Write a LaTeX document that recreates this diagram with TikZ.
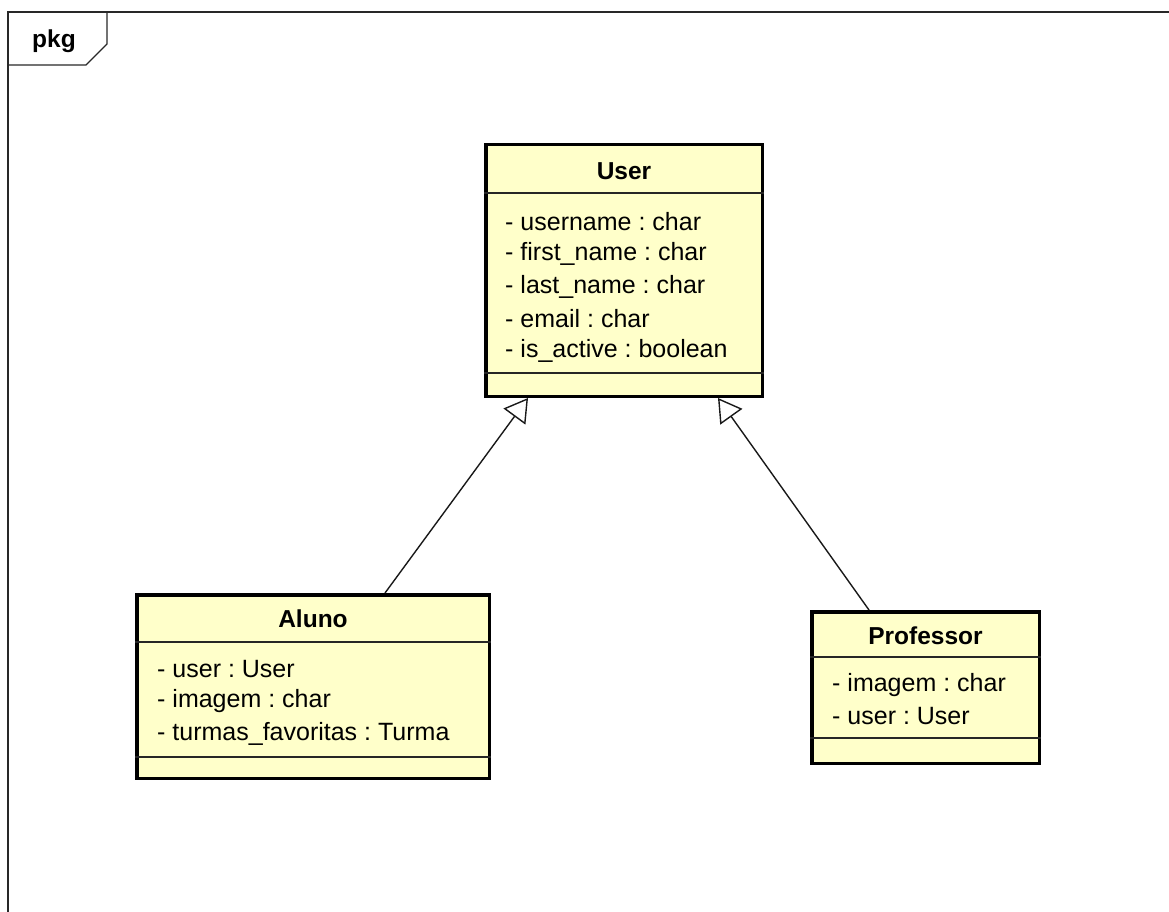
\documentclass[tikz,border=0pt]{standalone}
\usepackage{fontspec}
\setmainfont{Liberation Sans}
\usetikzlibrary{arrows.meta}
\frenchspacing
\definecolor{umlfill}{RGB}{255,255,202}
\definecolor{framegray}{RGB}{40,40,40}
\tikzset{
  classbox/.style={draw=black, line width=3.5pt, fill=umlfill, inner sep=0pt},
  sepline/.style={draw=black!85, line width=1.3pt},
  classname/.style={font=\fontsize{24.5}{28}\selectfont\bfseries, inner sep=0pt},
  attr/.style={font=\fontsize{25}{29}\selectfont, inner sep=0pt, anchor=west},
  frameline/.style={draw=framegray, line width=1.3pt},
  generalization/.style={draw=black!90, line width=1.4pt,
    -{Triangle[open, length=23pt, width=27pt, fill=white]}},
}
\begin{document}
\begin{tikzpicture}[x=1pt, y=-1pt]
\useasboundingbox (0,0) rectangle (1169,912);

% package frame with its name tab
\draw[frameline] (8,912) -- (8,12) -- (1169,12);
\draw[frameline] (107,12) -- (107,44) -- (86,65) -- (8,65);
\node[font=\fontsize{24.5}{28}\selectfont\bfseries, inner sep=0pt] (pkg) at (54,41) {pkg};

% class User
\node[classbox, minimum width=276.5pt, minimum height=251.5pt] (user) at (624,270.5) {};
\draw[sepline] (user.west |- 0,193) -- (user.east |- 0,193);
\draw[sepline] (user.west |- 0,373) -- (user.east |- 0,373);
\node[classname] (userT) at (624,171) {User};
\node[attr] (u1) at (505,222) {- username : char};
\node[attr] (u2) at (505,254) {- first\_name : char};
\node[attr] (u3) at (505,287) {- last\_name : char};
\node[attr] (u4) at (505,319) {- email : char};
\node[attr] (u5) at (505,351) {- is\_active : boolean};

% class Aluno
\node[classbox, minimum width=352.5pt, minimum height=183.5pt] (aluno) at (313,686.5) {};
\draw[sepline] (aluno.west |- 0,642) -- (aluno.east |- 0,642);
\draw[sepline] (aluno.west |- 0,757) -- (aluno.east |- 0,757);
\node[classname] (alunoT) at (313,619) {Aluno};
\node[attr] (a1) at (157,669) {- user : User};
\node[attr] (a2) at (157,701) {- imagem : char};
\node[attr] (a3) at (157,734) {- turmas\_favoritas : Turma};

% class Professor
\node[classbox, minimum width=227.5pt, minimum height=151.5pt] (prof) at (925.5,687.5) {};
\draw[sepline] (prof.west |- 0,657) -- (prof.east |- 0,657);
\draw[sepline] (prof.west |- 0,738) -- (prof.east |- 0,738);
\node[classname] (profT) at (925.5,636) {Professor};
\node[attr] (p1) at (832,685) {- imagem : char};
\node[attr] (p2) at (832,716) {- user : User};

% generalizations
\coordinate (alunoX) at (385,0);
\coordinate (userL) at (528,0);
\coordinate (profX) at (869,0);
\coordinate (userR) at (718,0);
\draw[generalization] (aluno.north -| alunoX) -- (user.south -| userL);
\draw[generalization] (prof.north -| profX) -- (user.south -| userR);
\end{tikzpicture}
\end{document}
